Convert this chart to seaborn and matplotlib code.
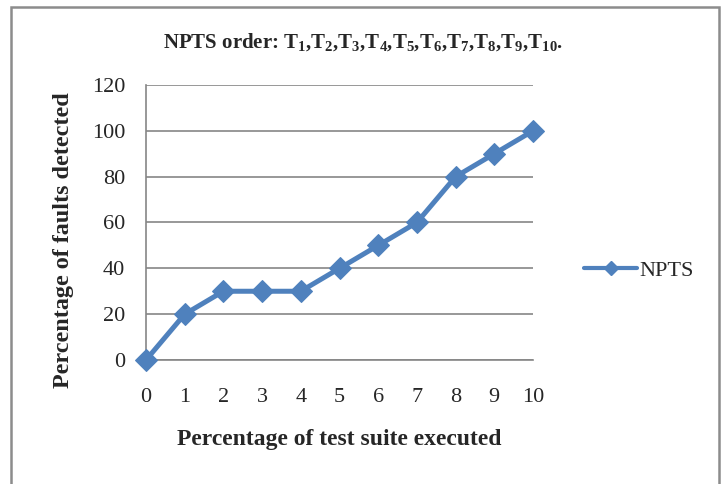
import matplotlib
matplotlib.use("Agg")
import matplotlib.pyplot as plt
import seaborn as sns
import pandas as pd
from matplotlib.patches import Rectangle
from matplotlib.lines import Line2D

# Data
suite_pct = [0, 1, 2, 3, 4, 5, 6, 7, 8, 9, 10]
faults_pct = [0, 20, 30, 30, 30, 40, 50, 60, 80, 90, 100]
series_name = "NPTS"
y_ticks = [0, 20, 40, 60, 80, 100, 120]
title = "NPTS order: " + ",".join(f"T$_{{{i}}}$" for i in range(1, 11)) + "."
x_label = "Percentage of test suite executed"
y_label = "Percentage of faults detected"

df = pd.DataFrame({"x": suite_pct, "y": faults_pct, "s": series_name})

sns.set_style("white")
plt.rcParams["font.family"] = ["Liberation Serif", "DejaVu Serif"]
plt.rcParams["mathtext.fontset"] = "custom"
plt.rcParams["mathtext.rm"] = "Liberation Serif:bold"
plt.rcParams["mathtext.it"] = "Liberation Serif:bold"
plt.rcParams["mathtext.bf"] = "Liberation Serif:bold"

fig = plt.figure(figsize=(7.21, 4.84), dpi=100)
ax = fig.add_axes([146 / 721, 1 - 360 / 484, (533 - 146) / 721, (360 - 85) / 484])

color = "#4F81BD"
sns.lineplot(data=df, x="x", y="y", hue="s", palette=[color], ax=ax,
             marker="D", markersize=11, linewidth=3.6, markeredgecolor=color,
             legend=False, zorder=3, clip_on=False)

ax.set_xlim(0, 10)
ax.set_ylim(0, 120)
ax.set_xticks(suite_pct)
ax.set_yticks(y_ticks)
ax.grid(axis="y", color="#868686", linewidth=1.2)
ax.grid(axis="x", visible=False)
for side in ["top", "right"]:
    ax.spines[side].set_visible(False)
ax.spines["left"].set_color("#868686")
ax.spines["bottom"].set_color("#868686")
ax.spines["left"].set_linewidth(1.2)
ax.spines["bottom"].set_linewidth(1.2)
ax.tick_params(axis="x", direction="out", length=5, color="#868686", width=1.2,
               labelsize=16, pad=15)
ax.tick_params(axis="y", length=0, labelsize=16, pad=15)

ax.set_xlabel(x_label, fontsize=17, fontweight="bold", labelpad=16)
ax.set_ylabel(y_label, fontsize=17.4, fontweight="bold", labelpad=13)
ax.yaxis.label.set_y(0.436)
fig.text(363 / 721, 1 - 42 / 484, title, fontsize=15, fontweight="bold",
         ha="center", va="center")

handle = Line2D([], [], color=color, marker="D", markersize=7, linewidth=3)
fig.legend([handle], [series_name], loc="center left",
           bbox_to_anchor=(564 / 721, 1 - 271 / 484), frameon=False,
           fontsize=16, handlelength=2.4, handletextpad=0.1)

fig.patches.append(Rectangle((11 / 721, -0.05), (719 - 11) / 721, 1.05 - 7 / 484,
                             transform=fig.transFigure, fill=False,
                             edgecolor="#8c8c8c", linewidth=1.8))

fig.savefig("out.png", dpi=100)
